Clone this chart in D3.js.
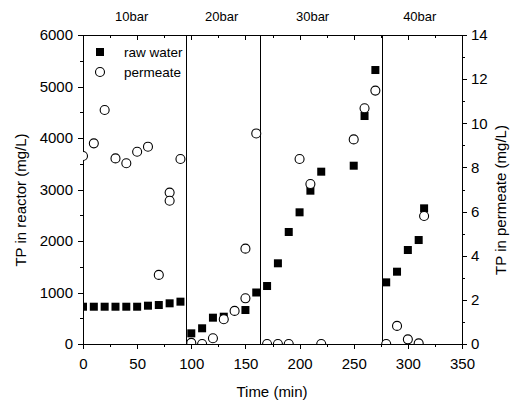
<!DOCTYPE html>
<html><head><meta charset="utf-8">
<script src="https://cdn.jsdelivr.net/npm/d3@7"></script>
<style>
body{margin:0;background:#fff;}
svg{display:block;font-family:"Liberation Sans",Arial,sans-serif;}
.axis path,.axis line{stroke:#000;stroke-width:1;shape-rendering:crispEdges;}
.axis text{font-size:15px;fill:#000;}
</style></head>
<body>
<svg id="c" width="511" height="406"></svg>
<script>
// ---- data ----
const rawTime = [0,10,20,30,40,50,60,70,80,90,100,110,120,130,150,160,170,180,190,200,210,220,250,260,270,280,290,300,310,315];
const rawTP   = [724,724,724,724,724,724,744,757,790,822,207,305,511,530,660,1000,1126,1567,2175,2557,2977,3346,3462,4427,5320,1197,1404,1825,2019,2634];
const permTime = [0,10,20,30,40,50,60,70,80,80,90,100,110,120,130,140,150,150,160,170,180,190,200,210,220,250,260,270,280,290,300,310,315];
const permTP   = [8.52,9.09,10.6,8.41,8.19,8.71,8.94,3.13,6.86,6.49,8.38,0.05,0,0.26,1.12,1.50,2.07,4.32,9.54,0,0,0,8.38,7.25,0,9.27,10.68,11.48,0,0.82,0.21,0.03,5.80];
const phaseBounds = [95,163,276];
const phaseLabels = ["10bar","20bar","30bar","40bar"];
const phaseLabelTime = [45,128,212,311];
const xTicks = [0,50,100,150,200,250,300,350];
const yLeftTicks = [0,1000,2000,3000,4000,5000,6000];
const yRightTicks = [0,2,4,6,8,10,12,14];
const seriesNames = ["raw water","permeate"];

// ---- layout ----
const L=83,R=462,T=35,B=344;
const svg = d3.select("#c");
const x = d3.scaleLinear().domain([0,350]).range([L,R]);
const yL = d3.scaleLinear().domain([0,6000]).range([B,T]);
const yR = d3.scaleLinear().domain([0,14]).range([B,T]);

svg.append("defs").append("clipPath").attr("id","clip")
  .append("rect").attr("x",L).attr("y",T).attr("width",R-L).attr("height",B-T);

// minor ticks
svg.append("g").attr("class","axis").attr("transform",`translate(0,${B})`)
  .call(d3.axisBottom(x).tickValues(d3.range(25,350,50)).tickSize(3).tickFormat("").tickSizeOuter(0));
svg.append("g").attr("class","axis").attr("transform",`translate(0,${T})`)
  .call(d3.axisTop(x).tickValues(d3.range(25,350,50)).tickSize(-3).tickFormat("").tickSizeOuter(0));
svg.append("g").attr("class","axis").attr("transform",`translate(${L},0)`)
  .call(d3.axisLeft(yL).tickValues(d3.range(500,6000,1000)).tickSize(3).tickFormat("").tickSizeOuter(0));
svg.append("g").attr("class","axis").attr("transform",`translate(${R},0)`)
  .call(d3.axisRight(yR).tickValues(d3.range(1,14,2)).tickSize(3).tickFormat("").tickSizeOuter(0));

// major axes
const gx = svg.append("g").attr("class","axis").attr("transform",`translate(0,${B})`)
  .call(d3.axisBottom(x).tickValues(xTicks).tickSize(5).tickPadding(9).tickFormat(d3.format("d")).tickSizeOuter(0));
svg.append("g").attr("class","axis").attr("transform",`translate(0,${T})`)
  .call(d3.axisTop(x).tickValues(xTicks).tickSize(-5).tickFormat("").tickSizeOuter(0));
svg.append("g").attr("class","axis").attr("transform",`translate(${L},0)`)
  .call(d3.axisLeft(yL).tickValues(yLeftTicks).tickSize(5).tickPadding(5).tickFormat(d3.format("d")).tickSizeOuter(0));
svg.append("g").attr("class","axis").attr("transform",`translate(${R},0)`)
  .call(d3.axisRight(yR).tickValues(yRightTicks).tickSize(5).tickPadding(4).tickFormat(d3.format("d")).tickSizeOuter(0));

// phase separators
svg.append("g").selectAll("line").data(phaseBounds).join("line")
  .attr("x1",d=>Math.round(x(d))+0.5).attr("x2",d=>Math.round(x(d))+0.5)
  .attr("y1",T).attr("y2",B).attr("stroke","#000").attr("stroke-width",1);

// phase labels
svg.append("g").selectAll("text").data(phaseLabels).join("text")
  .attr("x",(d,i)=>x(phaseLabelTime[i])).attr("y",21)
  .attr("text-anchor","middle").attr("font-size",13).text(d=>d);

// markers
const plot = svg.append("g").attr("clip-path","url(#clip)");
const sq = 8;
plot.selectAll("rect.raw").data(rawTime).join("rect").attr("class","raw")
  .attr("x",(d)=>x(d)-sq/2).attr("y",(d,i)=>yL(rawTP[i])-sq/2)
  .attr("width",sq).attr("height",sq).attr("fill","#000");
plot.selectAll("circle.perm").data(permTime).join("circle").attr("class","perm")
  .attr("cx",d=>x(d)).attr("cy",(d,i)=>yR(permTP[i])).attr("r",4.5)
  .attr("fill","#fff").attr("stroke","#000").attr("stroke-width",1.1);

// legend
const lg = svg.append("g");
lg.append("rect").attr("x",100-4).attr("y",52-4).attr("width",8).attr("height",8).attr("fill","#000");
lg.append("circle").attr("cx",100).attr("cy",72).attr("r",4.5).attr("fill","#fff").attr("stroke","#000").attr("stroke-width",1.1);
lg.selectAll("text").data(seriesNames).join("text")
  .attr("x",124).attr("y",(d,i)=>57+i*20).attr("font-size",13.5).text(d=>d);

// frame lines (top/right as lines)
svg.append("line").attr("x1",L).attr("x2",R).attr("y1",T+0.5).attr("y2",T+0.5).attr("stroke","#000");

// axis titles
svg.append("text").attr("x",272).attr("y",397).attr("text-anchor","middle").attr("font-size",15).text("Time (min)");
svg.append("text").attr("transform","translate(26,200) rotate(-90)").attr("text-anchor","middle").attr("font-size",15).text("TP in reactor (mg/L)");
svg.append("text").attr("transform","translate(506,200) rotate(-90)").attr("text-anchor","middle").attr("font-size",15).text("TP in permeate (mg/L)");
</script>
</body></html>
